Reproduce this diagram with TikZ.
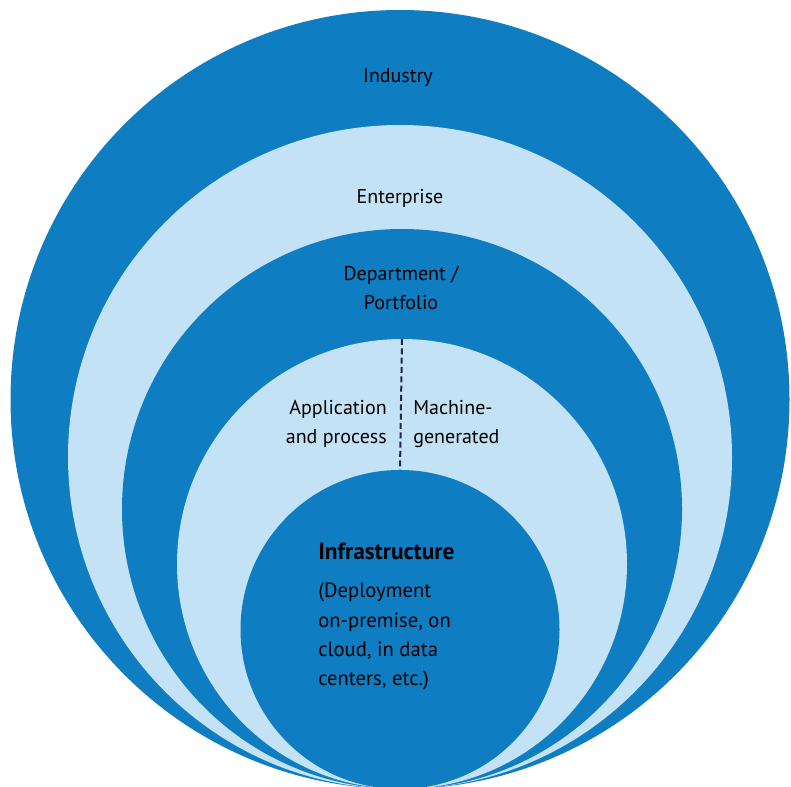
\documentclass[tikz,border=0pt]{standalone}
\usepackage{fontspec}
\setmainfont{PT Sans}
\definecolor{darkblue}{HTML}{0F7DC2}
\definecolor{lightblue}{HTML}{C3E2F6}
\definecolor{navy}{HTML}{1B2A45}
\begin{document}
\begin{tikzpicture}[x=0.75pt,y=-0.75pt,
  ring/.style={circle,inner sep=0pt,outer sep=0pt,draw=none},
  lab/.style={font=\fontsize{15}{21.5}\selectfont,text=black,inner sep=0pt,align=center},
  divider/.style={navy,line width=1.5pt,dash pattern=on 4.5pt off 2.5pt}]
\useasboundingbox (0,0) rectangle (791,787);
\node[ring,fill=darkblue,minimum size=584.25pt] (industry) at (400,399.5) {};
\node[ring,fill=lightblue,minimum size=498pt] (enterprise) at (400,457) {};
\node[ring,fill=darkblue,minimum size=420pt] (department) at (402,509) {};
\node[ring,fill=lightblue,minimum size=337.5pt] (application) at (402,564) {};
\node[ring,fill=darkblue,minimum size=239.25pt] (infra) at (400,629.5) {};
\draw[divider] (application.north) -- (infra.north);
\node[lab] (tIndustry) at (398,78) {Industry};
\node[lab] (tEnterprise) at (400,198) {Enterprise};
\node[lab] (tDepartment) at (401,288) {Department /\\Portfolio};
\node[lab,align=right,anchor=east] (tApp) at (387,424) {Application\\and process};
\node[lab,align=left,anchor=west] (tMachine) at (413,424) {Machine-\\generated};
\node[lab,anchor=north west,font=\fontsize{17.5}{22}\selectfont\bfseries] (tInfra) at (318,543) {Infrastructure};
\node[lab,align=left,anchor=north west,font=\fontsize{15.5}{22}\selectfont] (tDeploy) at (318,583) {(Deployment\\on-premise, on\\cloud, in data\\centers, etc.)};
\end{tikzpicture}
\end{document}
